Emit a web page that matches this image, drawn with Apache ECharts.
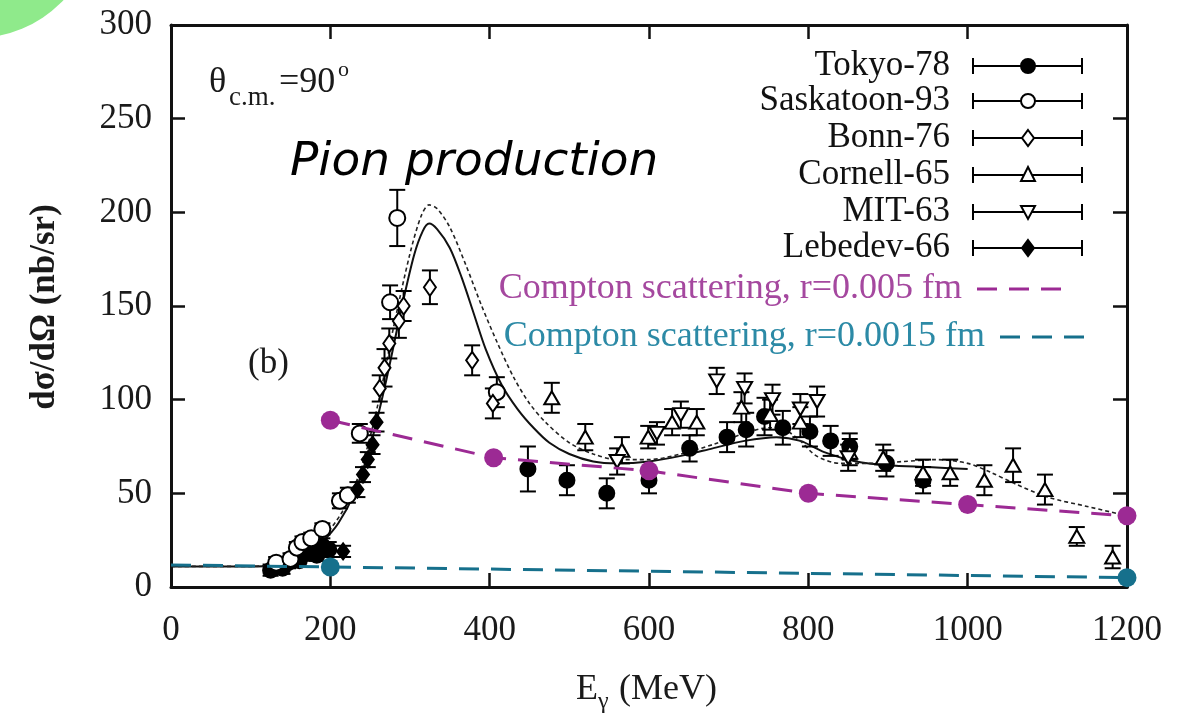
<!DOCTYPE html>
<html><head><meta charset="utf-8">
<script src="https://cdn.jsdelivr.net/npm/echarts@6/dist/echarts.min.js"></script>
<style>html,body{margin:0;padding:0;background:#fff}#c{width:1189px;height:722px}</style>
</head><body><div id="c"></div>
<script>
// ---- axis ranges ----
const xAxisRange = [0, 1200, 200];
const yAxisRange = [0, 300, 50];

// ---- data: [E (MeV), dsigma/dOmega (nb/sr), error] ----
const tokyo78 = [[125,9,3],[133,11,3],[140,10,3],[147,13,3],[154,15,3],[161,14,3],[168,18,4],[175,20,4],[183,17,3],[190,22,4],[198,20,4],
  [448,63,12],[497,57,8],[547,50,8],[600,57,7],[651,74,7],[698,80,8],[722,84,9],[745,91,10],[768,85,9],[802,83,8],[828,78,8],[852,75,7],[898,66,7],[944,57,7]];
const saskatoon93 = [[132,13,3],[150,15,3],[158,21,3],[165,24,3],[176,26,3],[190,31,3],[212,46,4],[222,49,4],[237,82,5],[275,152,9],[284,197,15],[409,104,8]];
const bonn76 = [[262,106,7],[268,117,10],[274,130,8],[286,142,9],[292,150,8],[325,160,9],[378,121,8],[404,98,8]];
const cornell65 = [[478,101,8],[520,80,7],[566,73,7],[599,80,6],[629,88,7],[660,88,7],[716,96,8],[752,92,8],[790,88,8],[852,72,7],[894,69,7],[944,61,7],[978,61,7],[1021,57,8],[1057,65,9],[1097,52,8],[1137,27,5],[1182,16,6]];
const mit63 = [[560,67,7],[610,82,6],[640,92,7],[685,110,7],[720,106,8],[755,100,8],[790,95,8],[811,99,8],[850,69,7]];
const lebedev66 = [[216,19,3],[234,52,4],[241,60,4],[247,68,4],[253,76,5],[258,88,5]];

// theory curves
const theorySolid = [[0,11],[50,11],[100,11],[130,11.5],[150,13],[170,17],[190,24],[210,34],[230,50],[250,75],[270,110],[290,150],[305,177],[316,190],[324,194],[334,191],[350,181],[365,165],[380,146],[395,127],[415,108],[435,95],[455,85],[475,77],[500,71],[530,67],[560,66],[600,67],[640,70],[680,74],[720,78],[760,80],[790,78],[820,72],[860,67],[900,65],[950,64],[1000,63]];
const theoryDotted = [[0,11],[100,11],[140,13],[160,17],[180,23],[200,31],[220,44],[240,65],[260,98],[280,140],[300,178],[314,198],[324,204],[334,202],[350,192],[370,172],[390,150],[410,130],[430,112],[450,98],[470,88],[500,77],[530,71],[560,68],[600,68],[640,71],[680,76],[720,82],[750,85],[770,84],[790,78],[810,70],[840,66],[880,66],[920,67],[960,68],[1000,66],[1030,61],[1060,55],[1100,48],[1150,43],[1200,38]];

// Compton scattering curves
const comptonR005 = [[200,89],[405,69],[600,62],[800,50],[1000,44],[1200,38]];
const comptonR0015 = [[0,11.8],[200,10.7],[1200,5.0]];

const legendNames = ['Tokyo-78','Saskatoon-93','Bonn-76','Cornell-65','MIT-63','Lebedev-66'];
const comptonNames = ['Compton scattering, r=0.005 fm','Compton scattering, r=0.0015 fm'];
const xTitle = ['E','\u03b3',' (MeV)'];
const yTitle = 'd\u03c3/d\u03a9 (nb/sr)';

const SERIF = '"Liberation Serif", "Times New Roman", serif';
const PURPLE = '#9c2a94', TEAL = '#16708c';

const sets = [
  {name: legendNames[0], data: tokyo78, symbol: 'circle', fill: '#000', size: 15, rot: 0},
  {name: legendNames[1], data: saskatoon93, symbol: 'circle', fill: '#fff', size: 16, rot: 0},
  {name: legendNames[2], data: bonn76, symbol: 'diamond', fill: '#fff', size: [12,17], rot: 0},
  {name: legendNames[3], data: cornell65, symbol: 'triangle', fill: '#fff', size: [15,13], rot: 0},
  {name: legendNames[4], data: mit63, symbol: 'triangle', fill: '#fff', size: [15,13], rot: 180},
  {name: legendNames[5], data: lebedev66, symbol: 'diamond', fill: '#000', size: [12,16], rot: 0}
];

function errRender(params, api) {
  const x = api.value(0), y = api.value(1), e = api.value(2);
  const t = api.coord([x, y + e]);
  const b = api.coord([x, y - e]);
  const hw = 8;
  const st = {stroke: '#000', lineWidth: 2};
  return {type: 'group', children: [
    {type: 'line', shape: {x1: t[0], y1: t[1], x2: b[0], y2: b[1]}, style: st},
    {type: 'line', shape: {x1: t[0]-hw, y1: t[1], x2: t[0]+hw, y2: t[1]}, style: st},
    {type: 'line', shape: {x1: b[0]-hw, y1: b[1], x2: b[0]+hw, y2: b[1]}, style: st}
  ]};
}

const series = [
  {type: 'line', data: theorySolid, smooth: 0.3, showSymbol: false, symbol: 'none', lineStyle: {color: '#111', width: 2}, z: 1, silent: true},
  {type: 'line', data: theoryDotted, smooth: 0.3, showSymbol: false, symbol: 'none', lineStyle: {color: '#222', width: 1.6, type: [4,3]}, z: 1, silent: true}
];
sets.forEach(s => {
  series.push({type: 'custom', name: s.name + ' err', data: s.data, renderItem: errRender, encode: {x: 0, y: 1}, z: 2, silent: true});
  series.push({type: 'scatter', name: s.name, data: s.data.map(d => [d[0], d[1]]), symbol: s.symbol, symbolSize: s.size, symbolRotate: s.rot,
    itemStyle: {color: s.fill, borderColor: '#000', borderWidth: 2, opacity: 1}, z: 3, silent: true});
});
series.push({type: 'line', data: comptonR005, symbol: 'circle', symbolSize: 19, showAllSymbol: true, clip: false,
  itemStyle: {color: PURPLE}, lineStyle: {color: PURPLE, width: 3, type: [20,12]}, z: 5, silent: true});
series.push({type: 'line', data: comptonR0015, symbol: 'circle', showAllSymbol: true, clip: false,
  symbolSize: (v) => v[0] === 0 ? 0 : 19,
  itemStyle: {color: TEAL}, lineStyle: {color: TEAL, width: 3, type: [20,12]}, z: 5, silent: true});

// ---- graphic (annotations + legend) ----
const graphic = [
  {type: 'circle', shape: {cx: -24, cy: -82, r: 120}, style: {fill: '#8fea8b'}, z: 0},
  {type: 'text', x: 290, y: 163, style: {text: 'Pion production', font: 'italic 47px "DejaVu Sans"', fill: '#000', verticalAlign: 'middle'}},
  {type: 'text', x: 209, y: 83, style: {text: '\u03b8', font: '36px ' + SERIF, fill: '#1a1a1a', verticalAlign: 'middle'}},
  {type: 'text', x: 229, y: 98, style: {text: 'c.m.', font: '27px ' + SERIF, fill: '#1a1a1a', verticalAlign: 'middle'}},
  {type: 'text', x: 279, y: 83, style: {text: '=90', font: '36px ' + SERIF, fill: '#1a1a1a', verticalAlign: 'middle'}},
  {type: 'text', x: 338, y: 70, style: {text: 'o', font: '22px ' + SERIF, fill: '#1a1a1a', verticalAlign: 'middle'}},
  {type: 'text', x: 248, y: 364, style: {text: '(b)', font: '35px ' + SERIF, fill: '#1a1a1a', verticalAlign: 'middle'}},
  {type: 'text', x: 45, y: 307, rotation: Math.PI / 2, style: {text: yTitle, font: 'bold 35px ' + SERIF, fill: '#1a1a1a', align: 'center', verticalAlign: 'middle'}},
  {type: 'text', x: 576, y: 690, style: {text: xTitle[0], font: '36px ' + SERIF, fill: '#1a1a1a', verticalAlign: 'middle'}},
  {type: 'text', x: 598, y: 702, style: {text: xTitle[1], font: '24px ' + SERIF, fill: '#1a1a1a', verticalAlign: 'middle'}},
  {type: 'text', x: 610, y: 690, style: {text: xTitle[2], font: '36px ' + SERIF, fill: '#1a1a1a', verticalAlign: 'middle'}}
];
const rowsY = [66, 101, 138, 175, 212, 248];
sets.forEach((s, i) => {
  const y = rowsY[i];
  graphic.push({type: 'text', x: 950, y: y, style: {text: s.name, font: '35px ' + SERIF, fill: '#111', align: 'right', verticalAlign: 'middle'}});
  const st = {stroke: '#000', lineWidth: 2};
  graphic.push({type: 'line', shape: {x1: 973, y1: y, x2: 1082, y2: y}, style: st});
  graphic.push({type: 'line', shape: {x1: 973, y1: y - 8, x2: 973, y2: y + 8}, style: st});
  graphic.push({type: 'line', shape: {x1: 1082, y1: y - 8, x2: 1082, y2: y + 8}, style: st});
  const cx = 1028;
  let shape;
  const mst = {fill: s.fill, stroke: '#000', lineWidth: 2};
  if (s.symbol === 'circle') shape = {type: 'circle', shape: {cx: cx, cy: y, r: 7}, style: mst};
  else if (s.symbol === 'diamond') shape = {type: 'polygon', shape: {points: [[cx, y-8],[cx+6, y],[cx, y+8],[cx-6, y]]}, style: mst};
  else if (s.rot === 180) shape = {type: 'polygon', shape: {points: [[cx-7, y-6],[cx+7, y-6],[cx, y+7]]}, style: mst};
  else shape = {type: 'polygon', shape: {points: [[cx, y-8],[cx+7, y+6],[cx-7, y+6]]}, style: mst};
  graphic.push(shape);
});
graphic.push({type: 'text', x: 962, y: 289, style: {text: comptonNames[0], font: '36px ' + SERIF, fill: '#a5489f', align: 'right', verticalAlign: 'middle'}});
graphic.push({type: 'line', shape: {x1: 977, y1: 289, x2: 1072, y2: 289}, style: {stroke: PURPLE, lineWidth: 3, lineDash: [20, 12]}});
graphic.push({type: 'text', x: 985, y: 337, style: {text: comptonNames[1], font: '36px ' + SERIF, fill: '#2c8aa6', align: 'right', verticalAlign: 'middle'}});
graphic.push({type: 'line', shape: {x1: 1000, y1: 337, x2: 1095, y2: 337}, style: {stroke: TEAL, lineWidth: 3, lineDash: [20, 12]}});

const axisCommon = {
  axisLine: {show: true, onZero: false, lineStyle: {color: '#111', width: 3}},
  axisTick: {show: true, inside: true, length: 14, lineStyle: {color: '#111', width: 2.5}},
  splitLine: {show: false}
};
const plainFmt = (v) => String(v);

const option = {
  animation: false,
  backgroundColor: '#fff',
  grid: {left: 171, right: 62, top: 25, bottom: 135, containLabel: false},
  xAxis: [
    Object.assign({type: 'value', position: 'bottom', min: xAxisRange[0], max: xAxisRange[1], interval: xAxisRange[2],
      axisLabel: {color: '#1a1a1a', fontFamily: SERIF, fontSize: 35, margin: 26, formatter: plainFmt}}, axisCommon),
    Object.assign({type: 'value', position: 'top', min: xAxisRange[0], max: xAxisRange[1], interval: xAxisRange[2],
      axisLabel: {show: false}}, axisCommon)
  ],
  yAxis: [
    Object.assign({type: 'value', position: 'left', min: yAxisRange[0], max: yAxisRange[1], interval: yAxisRange[2],
      axisLabel: {color: '#1a1a1a', fontFamily: SERIF, fontSize: 35, margin: 19, formatter: plainFmt}}, axisCommon),
    Object.assign({type: 'value', position: 'right', min: yAxisRange[0], max: yAxisRange[1], interval: yAxisRange[2],
      axisLabel: {show: false}}, axisCommon)
  ],
  graphic: graphic,
  series: series
};
const chart = echarts.init(document.getElementById('c'), null, {renderer: 'canvas'});
chart.setOption(option);
</script>
</body></html>
